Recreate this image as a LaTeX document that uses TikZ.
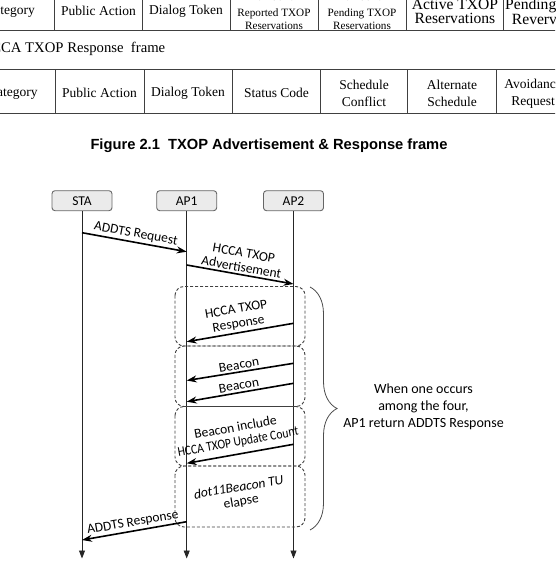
\documentclass[tikz,border=0pt]{standalone}
\usepackage{fontspec}
\setmainfont{Carlito}
\newfontfamily\tabfont{Liberation Serif}
\newfontfamily\capfont{Liberation Sans}
\usetikzlibrary{arrows.meta, decorations.pathreplacing, calc}
\tikzset{
	tabline/.style={draw=black!75, line width=1pt}
}
\tikzset{
	tabtext/.style={font=\tabfont\fontsize{13.5}{17}\selectfont, align=center, inner sep=0pt},
	smalltabtext/.style={font=\tabfont\fontsize{11.2}{12.5}\selectfont, align=center, inner sep=0pt},
	bigtabtext/.style={font=\tabfont\fontsize{15.6}{13.5}\selectfont, align=center, inner sep=0pt}
}
\tikzset{
	hdrbox/.style={draw=black!60, fill=black!8, line width=0.9pt, rounded corners=3pt,
		minimum width=60pt, minimum height=20pt, inner sep=0pt, font=\fontsize{13.5}{15}\selectfont},
	lifeline/.style={draw=black!85, line width=0.9pt, -{Triangle[length=8pt,width=6pt]}},
	msg/.style={line width=1.6pt, -{Stealth[length=10pt,width=7pt]}},
	msglabel/.style={sloped, above, align=center, inner sep=2pt, font=\fontsize{13.5}{14.5}\selectfont},
	waitbox/.style={draw=black!75, line width=0.9pt, dash pattern=on 3pt off 2pt, rounded corners=9pt}
}

\begin{document}
\begin{tikzpicture}[x=1pt, y=-1pt]
  \useasboundingbox (0,0) rectangle (555,580);
  \clip (0,0) rectangle (555,580);

  % advertisement frame (only the lower part is visible)
  \draw[tabline] (-5,31) -- (560,31);
  \foreach \x in {54.5,142.5,230,318,406.5,503}
    \draw[tabline] (\x,-10) -- (\x,31);
  \node[tabtext, anchor=east] (adcat) at (35,11) {Category};
  \node[tabtext] (adpub) at (98.5,11) {Public Action};
  \node[tabtext] (adtok) at (186,11) {Dialog Token};
  \node[smalltabtext] (adrep) at (274,11) {Number of\\[3.5pt]Reported TXOP\\Reservations};
  \node[smalltabtext] (adpen) at (362,11) {Number of\\[3.5pt]Pending TXOP\\Reservations};
  \node[bigtabtext] (adact) at (455,11.5) {Active TXOP\\Reservations};
  \node[bigtabtext, anchor=west] (adpnd) at (505,11.5) {Pending TXOP\\Revervations};

  % response frame
  \node[font=\tabfont\fontsize{14.7}{16}\selectfont, anchor=west, inner sep=0pt] (rsptitle)
    at (-19.5,48.5) {HCCA TXOP Response\ \ frame};
  \draw[tabline] (-5,70) -- (560,70) (-5,114) -- (560,114);
  \foreach \x in {55.7,144.3,232.3,320.7,407.7,496.7}
    \draw[tabline] (\x,70) -- (\x,114);
  \node[tabtext, anchor=east] (rscat) at (37.7,93) {Category};
  \node[tabtext] (rspub) at (99.5,93) {Public Action};
  \node[tabtext] (rstok) at (188,93) {Dialog Token};
  \node[tabtext] (rssta) at (276.5,93) {Status Code};
  \node[tabtext] (rscon) at (364,93.5) {Schedule\\Conflict};
  \node[tabtext] (rsalt) at (452,93.5) {Alternate\\Schedule};
  \node[tabtext] (rsavo) at (533,93.5) {Avoidance\\Request};

  \node[font=\capfont\bfseries\fontsize{14.7}{18}\selectfont] (caption) at (269,146)
    {Figure 2.1\ \ TXOP Advertisement \& Response frame};

  % stations and lifelines
  \node[hdrbox] (sta) at (82,200.7) {STA};
  \node[hdrbox] (apone) at (186.7,200.7) {AP1};
  \node[hdrbox] (aptwo) at (293.5,200.7) {AP2};
  \foreach \n in {sta,apone,aptwo}{
    \coordinate (\n end) at (\n.south |- 0,558.5);
    \draw[lifeline] (\n) -- (\n end);
  }

  % the four cases
  \draw[waitbox] (175,286.5) rectangle (305,346);
  \draw[waitbox] (175,346) rectangle (305,406.5);
  \draw[waitbox] (175,406.5) rectangle (305,466);
  \draw[waitbox] (175,466) rectangle (305,527);

  % messages
  \coordinate (reqa) at (sta.south |- 0,232.7);
  \coordinate (reqb) at (apone.south |- 0,251.7);
  \draw[msg] (reqa) -- node[msglabel] (reqlbl) {ADDTS Request} (reqb);
  \coordinate (adva) at (apone.south |- 0,265);
  \coordinate (advb) at (aptwo.south |- 0,284);
  \draw[msg] (adva) -- node[msglabel] (advlbl) {HCCA TXOP\\Advertisement} (advb);
  \coordinate (rspa) at (aptwo.south |- 0,323.3);
  \coordinate (rspb) at (apone.south |- 0,341.7);
  \draw[msg] (rspa) -- node[msglabel] (rsplbl) {HCCA TXOP\\Response} (rspb);
  \coordinate (bcna) at (aptwo.south |- 0,363.3);
  \coordinate (bcnb) at (apone.south |- 0,380.5);
  \draw[msg] (bcna) -- node[msglabel] (bcnlbl) {Beacon} (bcnb);
  \coordinate (bcnc) at (aptwo.south |- 0,383.3);
  \coordinate (bcnd) at (apone.south |- 0,401.7);
  \draw[msg] (bcnc) -- node[msglabel] (bcnlblb) {Beacon} (bcnd);
  \coordinate (upda) at (aptwo.south |- 0,444.3);
  \coordinate (updb) at (apone.south |- 0,463.3);
  \draw[msg] (upda) -- node[msglabel, above=3pt] (updlbl)
    {Beacon include\\\scalebox{0.86}[1]{HCCA TXOP Update Count}} (updb);
  \node[rotate=9.7, align=center, font=\fontsize{13.5}{14.5}\selectfont] (tulbl) at (240,495)
    {\textit{dot11Beacon TU}\\elapse};
  \coordinate (ansa) at (apone.south |- 0,521.7);
  \coordinate (ansb) at (sta.south |- 0,540);
  \draw[msg] (ansa) -- node[msglabel] (anslbl) {ADDTS Response} (ansb);

  % brace over the four cases
  \draw[black!70, line width=0.8pt, decorate, decoration={brace, amplitude=27pt}]
    (310,287) -- (310,530);
  \node[align=center, font=\fontsize{14}{17}\selectfont] (note) at (423.5,407)
    {When one occurs\\among the four,\\AP1 return ADDTS Response};
\end{tikzpicture}
\end{document}
